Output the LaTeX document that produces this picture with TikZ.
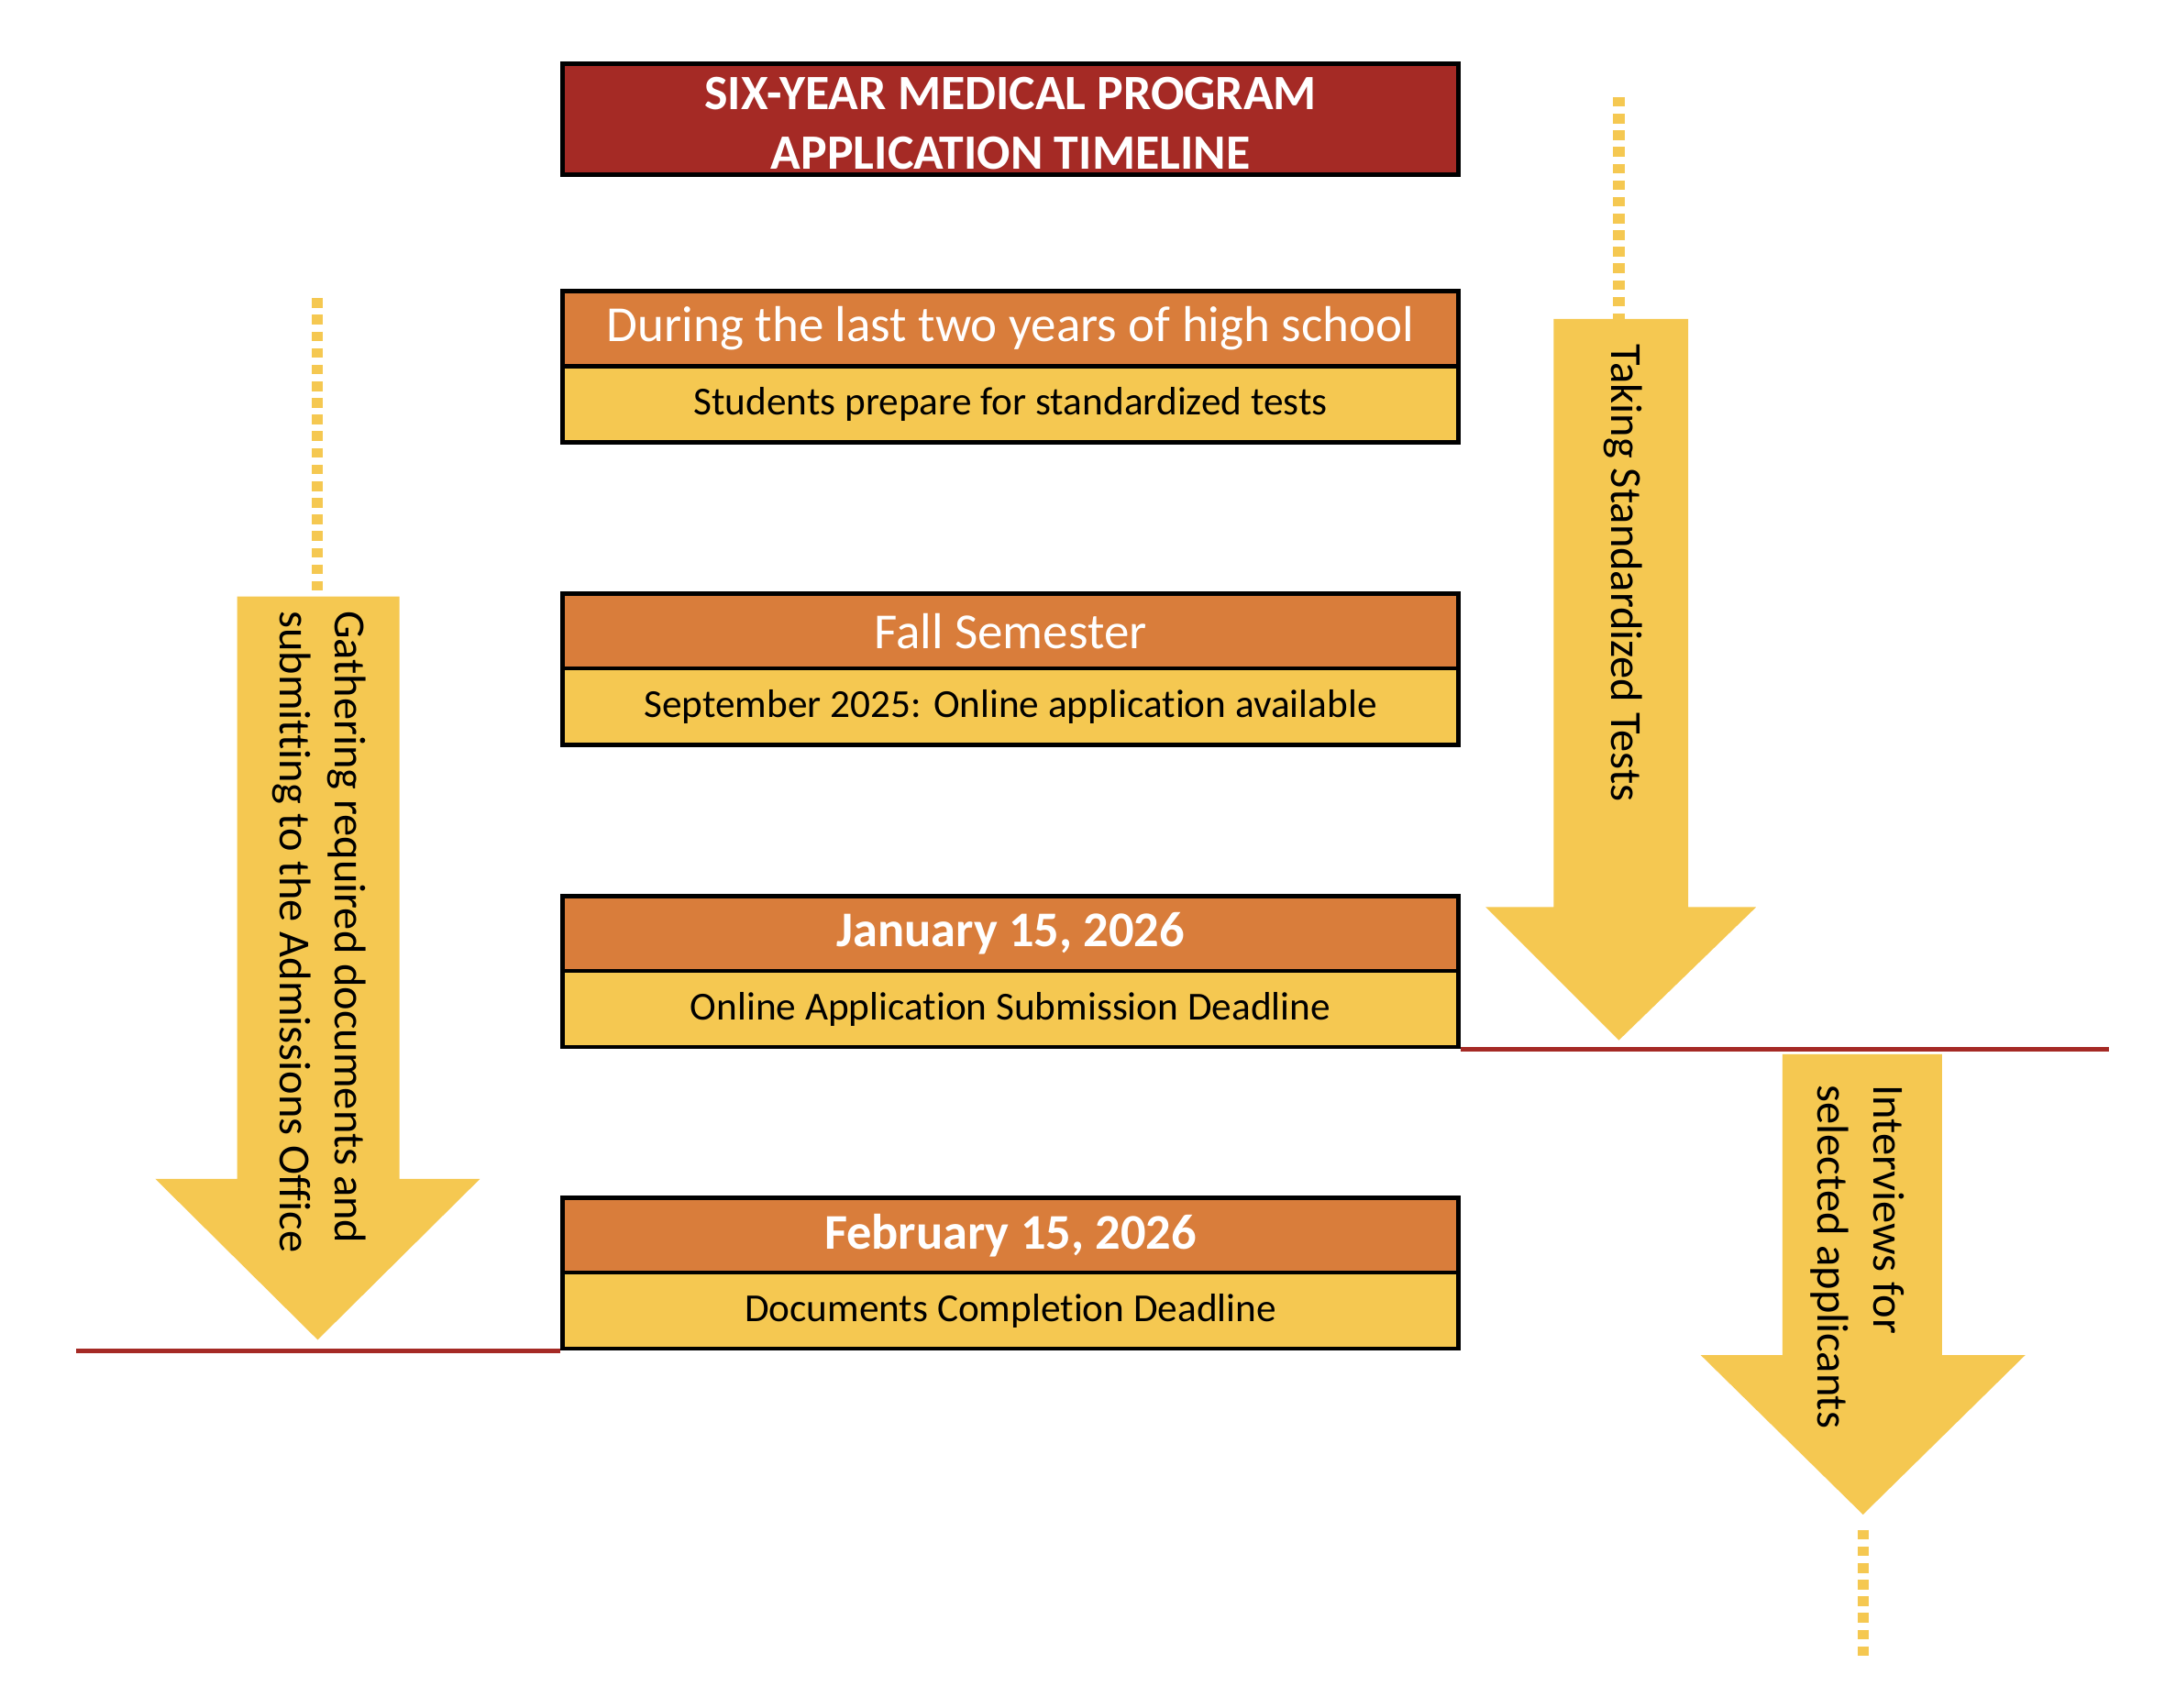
\documentclass[tikz,border=0pt]{standalone}
\usepackage{fontspec}
\setmainfont[Ligatures={NoCommon}]{Carlito}
\definecolor{titlered}{RGB}{165,42,37}
\definecolor{headorange}{RGB}{217,125,59}
\definecolor{subyellow}{RGB}{245,200,81}
\definecolor{linered}{RGB}{165,42,37}
\begin{document}
\begin{tikzpicture}[x=0.5pt,y=-0.5pt,
  boxbase/.style={draw=black, line width=1.5pt, minimum width=323pt, inner sep=0pt, align=center},
  titlebox/.style={boxbase, fill=titlered, minimum height=40pt, text=white, font=\bfseries\fontsize{17.8}{21.5}\selectfont},
  headbox/.style={boxbase, fill=headorange, minimum height=27pt, text=white, font=\fontsize{18.2}{22}\selectfont},
  datebox/.style={headbox, font=\bfseries\fontsize{18}{22}\selectfont},
  subbox/.style={boxbase, fill=subyellow, minimum height=27.5pt, text=black, font=\fontsize{14.3}{17}\selectfont},
  redline/.style={draw=linered, line width=1.5pt},
  dotline/.style={draw=subyellow, line width=4pt, dash pattern=on 3.5pt off 2.5pt},
  bigarrow/.style={fill=subyellow},
  arrowtext/.style={rotate=-90, anchor=west, inner sep=0pt, align=left, text=black, font=\fontsize{16}{20}\selectfont}
]
\useasboundingbox (0,0) rectangle (1560,1231);

% title
\node[titlebox] (title) at (728.5,86) {\rule{0pt}{14.4pt}SIX-YEAR MEDICAL PROGRAM\\APPLICATION TIMELINE};

% timeline boxes
\node[headbox] (h1) at (728.5,237) {During the last two years of high school};
\node[subbox]  (s1) at (728.5,291.5) {Students prepare for standardized tests};
\node[headbox] (h2) at (728.5,455) {Fall Semester};
\node[subbox]  (s2) at (728.5,509.5) {September 2025: Online application available};
\node[datebox] (h3) at (728.5,673) {January 15, 2026};
\node[subbox]  (s3) at (728.5,727.5) {Online Application Submission Deadline};
\node[datebox] (h4) at (728.5,890.5) {February 15, 2026};
\node[subbox]  (s4) at (728.5,945) {Documents Completion Deadline};

% red marker lines (horizontal, from the box corners)
\path (s3.south east) ++(467,0) coordinate (l3);
\path (s4.south west) ++(-349,0) coordinate (l4);
\draw[redline] (s3.south east) -- (l3);
\draw[redline] (s4.south west) -- (l4);

% left arrow
\coordinate (d1a) at (229,215);
\coordinate (d1b) at (229,430);
\draw[dotline] (d1a) -- (d1b);
\fill[bigarrow] (171,430) -- (288,430) -- (288,850) -- (346,850) -- (229,966) -- (112,850) -- (171,850) -- cycle;
\node[arrowtext] (t1) at (230,440) {Gathering required documents and\\submitting to the Admissions Office};

% right arrow 1
\coordinate (d2a) at (1167,70);
\coordinate (d2b) at (1167,230);
\draw[dotline] (d2a) -- (d2b);
\fill[bigarrow] (1120,230) -- (1217,230) -- (1217,654) -- (1266,654) -- (1167,750) -- (1071,654) -- (1120,654) -- cycle;
\node[arrowtext] (t2) at (1170,248) {Taking Standardized Tests};

% right arrow 2
\fill[bigarrow] (1285,760) -- (1400,760) -- (1400,977) -- (1460,977) -- (1343,1092) -- (1226,977) -- (1285,977) -- cycle;
\node[arrowtext] (t3) at (1339,782) {Interviews for\\selected applicants};
\coordinate (d3a) at (1343,1103);
\coordinate (d3b) at (1343,1195);
\draw[dotline] (d3a) -- (d3b);
\end{tikzpicture}
\end{document}
